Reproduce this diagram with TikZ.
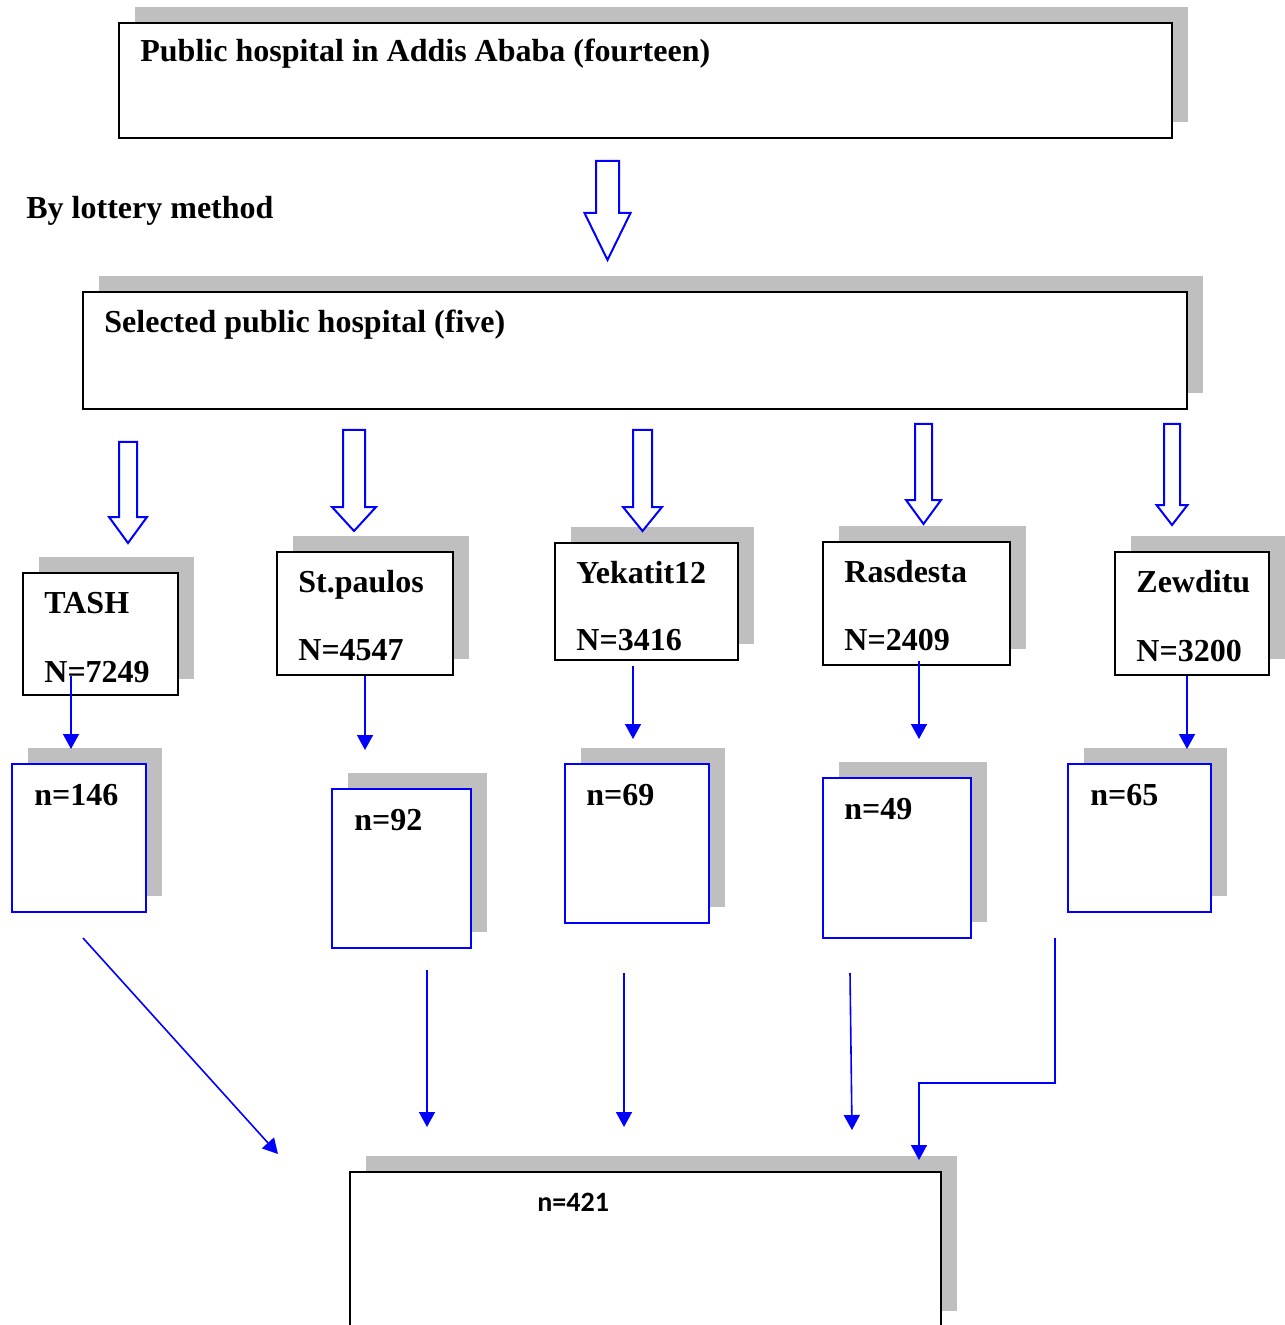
\documentclass[tikz,border=0pt]{standalone}
\usepackage{fontspec}
\setmainfont{Liberation Serif}
\newfontfamily\calibri{Carlito}
\usetikzlibrary{shadows,fit,calc,arrows.meta}
\definecolor{shadowgray}{RGB}{191,191,191}
% hollow block arrow: x, top, neck, tip, shaft half width, head half width
\newcommand{\hollowarrow}[6]{\draw[hollow] (#1-#5,#2) -- (#1+#5,#2) -- (#1+#5,#3) -- (#1+#6,#3) -- (#1,#4) -- (#1-#6,#3) -- (#1-#5,#3) -- cycle;}

\begin{document}
\begin{tikzpicture}[x=0.5pt, y=-0.5pt,
  box/.style={draw, line width=1pt, fill=white, inner sep=0, general shadow={fill=shadowgray, shadow xshift=8pt, shadow yshift=8pt}},
  nbox/.style={box, draw=blue},
  txt/.style={anchor=base west, inner sep=0, font=\bfseries\fontsize{16}{19}\selectfont},
  hollow/.style={draw=blue, fill=white, line width=1pt, line join=miter},
  link/.style={draw=blue, line width=0.8pt, -{Triangle[length=7.5pt, width=8pt]}}]
\useasboundingbox (0,0) rectangle (1284,1325);

% top level
\node[box, fit={(119,23) (1172,138)}] (allhosp) {};
\node[txt] (allhosptxt) at (140,62) {Public hospital in Addis Ababa (fourteen)};
\node[txt] (lottery) at (26,219) {By lottery method};
\hollowarrow{607.5}{161}{213}{260}{11.5}{23}
\node[box, fit={(83,292) (1187,409)}] (selected) {};
\node[txt] (selectedtxt) at (104,333) {Selected public hospital (five)};

% hospitals
\node[box, fit={(23,573) (178,695)}] (tash) {};
\node[txt] at (44,613) {TASH};
\node[txt] at (44,682) {N=7249};
\node[box, fit={(277,552) (453,675)}] (paulos) {};
\node[txt] at (298,592) {St.paulos};
\node[txt] at (298,660) {N=4547};
\node[box, fit={(555,543) (738,660)}] (yekatit) {};
\node[txt] at (576,583) {Yekatit12};
\node[txt] at (576,650) {N=3416};
\node[box, fit={(823,542) (1010,665)}] (rasdesta) {};
\node[txt] at (844,582) {Rasdesta};
\node[txt] at (844,650) {N=2409};
\node[box, fit={(1115,552) (1269,675)}] (zewditu) {};
\node[txt] at (1136,592) {Zewditu};
\node[txt] at (1136,661) {N=3200};

% block arrows to the hospitals
\hollowarrow{128}{442}{517}{543}{9}{19}
\hollowarrow{354}{430}{507}{531}{11}{22}
\hollowarrow{642.5}{430}{507}{531}{9.5}{19.5}
\hollowarrow{923.5}{424}{500}{524}{8.5}{17.5}
\hollowarrow{1172}{424}{505}{525}{8}{15.5}

% samples
\node[nbox, fit={(12,764) (146,912)}] (n146) {};
\node[txt] at (34,805) {n=146};
\node[nbox, fit={(332,789) (471,948)}] (n92) {};
\node[txt] at (354,830) {n=92};
\node[nbox, fit={(565,764) (709,923)}] (n69) {};
\node[txt] at (586,805) {n=69};
\node[nbox, fit={(823,778) (971,938)}] (n49) {};
\node[txt] at (844,819) {n=49};
\node[nbox, fit={(1068,764) (1211,912)}] (n65) {};
\node[txt] at (1090,805) {n=65};

\draw[link] ($(tash.south)+(-29.5,-20)$) -- ++(0,73);
\draw[link] (paulos.south) -- ++(0,74);
\draw[link] ($(yekatit.south)+(-13.5,5)$) -- ++(0,73);
\draw[link] ($(rasdesta.south)+(2.5,-5)$) -- ++(0,78);
\draw[link] ($(zewditu.south)+(-5,0)$) -- ++(0,73);

% total
\node[box, fit={(350,1172) (941,1327)}] (total) {};
\node[anchor=base west, inner sep=0, font=\calibri\bfseries\fontsize{14}{17}\selectfont] at (537,1211) {n=421};

\coordinate (out1) at (83,938);
\coordinate (in1) at (278,1154);
\coordinate (out2) at (427,970);
\coordinate (in2) at (427,1127);
\coordinate (out3) at (624,973);
\coordinate (in3) at (624,1127);
\coordinate (out4) at (850,973);
\coordinate (in4) at (852,1130);
\coordinate (out5) at (1055,938);
\coordinate (bend) at (919,1083);
\coordinate (in5) at (919,1160);
\draw[link] (out1) -- (in1);
\draw[link] (out2) -- (in2);
\draw[link] (out3) -- (in3);
\draw[link] (out4) -- (in4);
\draw[link] (out5) |- (bend) -- (in5);
\end{tikzpicture}
\end{document}
